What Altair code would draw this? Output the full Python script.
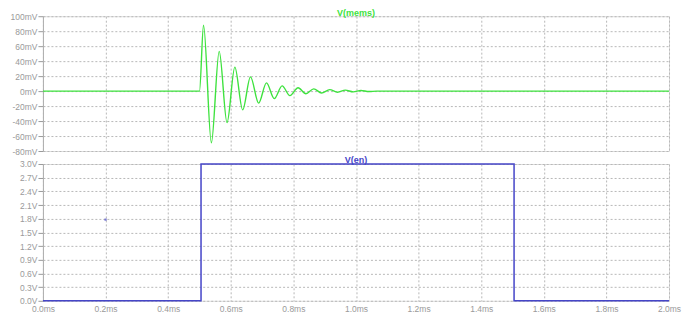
import altair as alt
import pandas as pd

# V(mems) trace: time (ms) and voltage (mV), read at extrema
mems_t = [0.0, 0.500, 0.513, 0.538, 0.563, 0.588, 0.613, 0.638, 0.663, 0.689,
          0.714, 0.739, 0.764, 0.789, 0.815, 0.840, 0.865, 0.890, 0.916, 0.941,
          0.966, 0.991, 1.016, 1.041, 1.066, 2.0]
mems_v = [0, 0, 88, -69, 53, -42, 32, -25, 19, -16,
          11, -10, 7, -6, 4.5, -3.5, 3, -2.5, 2, -1.5,
          1.3, -1, 0.8, -0.6, 0, 0]

# V(en) trace: time (ms) and voltage (V)
en_t = [0.0, 0.505, 0.505, 1.505, 1.505, 2.0]
en_v = [0.0, 0.0, 3.0, 3.0, 0.0, 0.0]

# small stray marker in lower panel
dot_t = [0.2]
dot_v = [1.78]

titles = ["V(mems)", "V(en)"]

x_ticks = [round(0.2 * i, 1) for i in range(11)]
mv_ticks = list(range(-80, 101, 20))
v_ticks = [round(0.3 * i, 1) for i in range(11)]

GREEN = "#3ee23e"
BLUE = "#4545c8"
GRID = "#b8b8b8"
LABEL = "#9a9a9a"
FONT = "Liberation Sans"
W = 627

mems_df = pd.DataFrame({"t": mems_t, "v": mems_v})
en_df = pd.DataFrame({"t": en_t, "v": en_v})
dot_df = pd.DataFrame({"t": dot_t, "v": dot_v})

x_scale = alt.Scale(domain=[0, 2], nice=False, zero=False)

y_common = dict(grid=True, gridDash=[2, 2], gridColor=GRID, labelColor=LABEL,
                labelFont=FONT, labelFontSize=8.5, tickColor=LABEL, tickSize=5,
                labelPadding=1, domainColor="#b0b0b0", title=None,
                minExtent=34, maxExtent=34, labelOverlap=False)

top_x_axis = alt.Axis(values=x_ticks, labels=False, ticks=False, domain=False,
                      grid=True, gridDash=[2, 2], gridColor=GRID, title=None,
                      minExtent=0, maxExtent=0)
bot_x_axis = alt.Axis(values=x_ticks, labelExpr="format(datum.value, '.1f') + 'ms'",
                      ticks=False, domain=False, grid=True, gridDash=[2, 2],
                      gridColor=GRID, title=None, labelColor=LABEL, labelFont=FONT,
                      labelFontSize=8.5, labelPadding=4, labelOverlap=False,
                      labelFlush=False, minExtent=14, maxExtent=14)
bot_y_axis = alt.Axis(values=v_ticks, labelExpr="format(datum.value, '.1f') + 'V'", **y_common)
bot_y_scale = alt.Scale(domain=[0, 3], nice=False, zero=False)

top_line = alt.Chart(mems_df).mark_line(color=GREEN, strokeWidth=1.4, interpolate="monotone", clip=False).encode(
    x=alt.X("t:Q", scale=x_scale, axis=top_x_axis),
    y=alt.Y("v:Q", scale=alt.Scale(domain=[-80, 100], nice=False, zero=False),
            axis=alt.Axis(values=mv_ticks, labelExpr="datum.value + 'mV'", **y_common)),
)
top_title = alt.Chart(pd.DataFrame({"s": [titles[0]]})).mark_text(
    color=GREEN, fontSize=9, fontWeight="bold", font=FONT, align="center", baseline="bottom"
).encode(x=alt.value(W / 2), y=alt.value(1.5), text="s:N")
top = alt.layer(top_line, top_title).properties(width=W, height=135)

bot_line = alt.Chart(en_df).mark_line(color=BLUE, strokeWidth=1.5, clip=False).encode(
    x=alt.X("t:Q", scale=x_scale, axis=bot_x_axis),
    y=alt.Y("v:Q", scale=bot_y_scale, axis=bot_y_axis),
)
bot_dot = alt.Chart(dot_df).mark_point(color=BLUE, filled=True, size=5, shape="square").encode(
    x=alt.X("t:Q", scale=x_scale, axis=bot_x_axis),
    y=alt.Y("v:Q", scale=bot_y_scale, axis=bot_y_axis),
)
bot_title = alt.Chart(pd.DataFrame({"s": [titles[1]]})).mark_text(
    color=BLUE, fontSize=9, fontWeight="bold", font=FONT, align="center", baseline="bottom"
).encode(x=alt.value(W / 2), y=alt.value(1.5), text="s:N")
bot = alt.layer(bot_line, bot_dot, bot_title).properties(width=W, height=137)

chart = alt.vconcat(top, bot, spacing=0).properties(
    padding={"left": 0, "top": 0, "right": 0, "bottom": 0},
).configure_view(stroke="#c0c0c0", strokeWidth=1.5).configure(background="white")

chart.save("out.html", embed_options={"renderer": "svg", "actions": False})
